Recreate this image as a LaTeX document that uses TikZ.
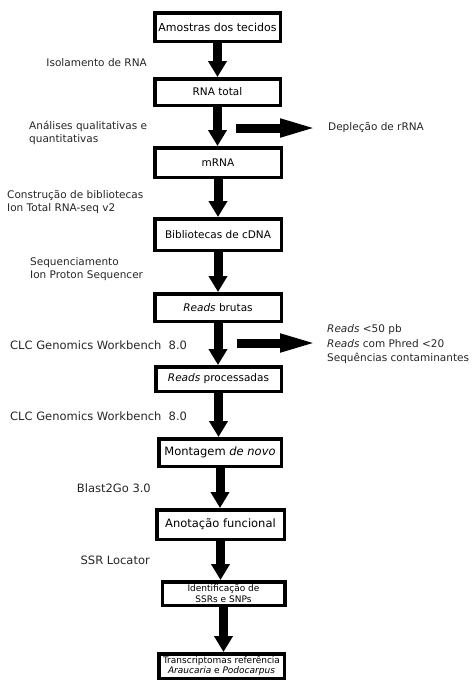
\documentclass[tikz,border=0pt]{standalone}
\usepackage{fontspec}
\setmainfont{DejaVu Sans}
\usetikzlibrary{arrows.meta}
\begin{document}
\begin{tikzpicture}[x=1pt,y=-1pt,
  box/.style={draw=black, line width=3.5pt, fill=white, inner sep=0pt, align=center, font=\fontsize{10.5}{12}\selectfont},
  lab/.style={inner sep=0pt, align=left, font=\fontsize{10.5}{13}\selectfont, text=black!85},
  biglab/.style={lab, font=\fontsize{11.5}{13}\selectfont},
  down/.style={line width=9pt, -{Triangle[length=16pt,width=18pt]}},
  side/.style={line width=9pt, -{Triangle[length=40pt,width=16pt]}}]
\useasboundingbox (0,0) rectangle (472,683);
% boxes
\node[box, minimum width=125.5pt, minimum height=28.5pt, font=\fontsize{11}{13}\selectfont] (b1) at (217.5,27) {Amostras dos tecidos};
\node[box, minimum width=125.5pt, minimum height=26.5pt] (b2) at (217.5,92) {RNA total};
\node[box, minimum width=126.5pt, minimum height=29.5pt] (b3) at (218,162.5) {mRNA};
\node[box, minimum width=126.5pt, minimum height=31.5pt] (b4) at (218,234.5) {Bibliotecas de cDNA};
\node[box, minimum width=126.5pt, minimum height=27.5pt] (b5) at (218,307.5) {\textit{Reads} brutas};
\node[box, minimum width=125.5pt, minimum height=24.5pt] (b6) at (218.5,379) {\textit{Reads} processadas};
\node[box, minimum width=122.5pt, minimum height=27.5pt, font=\fontsize{11.5}{13}\selectfont] (b7) at (220,452.5) {Montagem \textit{de novo}};
\node[box, minimum width=127.5pt, minimum height=29.5pt, font=\fontsize{11.5}{13}\selectfont] (b8) at (220.5,524.5) {Anotação funcional};
\node[box, minimum width=122.5pt, minimum height=23.5pt, font=\fontsize{9}{11.5}\selectfont] (b9) at (223.5,593.5) {Identificação de\\SSRs e SNPs};
\node[box, minimum width=125.5pt, minimum height=24.5pt, font=\fontsize{9}{10.5}\selectfont] (b10) at (221.5,666) {Transcriptomas referência\\\textit{Araucaria} e \textit{Podocarpus}};
% vertical arrows
\draw[down] (b1.south) -- (b1.south |- b2.north);
\draw[down] (b2.south) -- (b2.south |- b3.north);
\draw[down] (b3.south) -- (b3.south |- b4.north);
\draw[down] (b4.south) -- (b4.south |- b5.north);
\draw[down] (b5.south) -- (b5.south |- b6.north);
\draw[down] (b6.south) -- (b6.south |- b7.north);
\draw[down] (b7.south) -- (b7.south |- b8.north);
\draw[down] (b8.south) -- (b8.south |- b9.north);
\draw[down] (b9.south) -- (b9.south |- b10.north);
% left labels
\node[lab, anchor=east] (l1) at (147,63) {Isolamento de RNA};
\node[lab, anchor=west] (l2) at (29,132.5) {Análises qualitativas e\\quantitativas};
\node[lab, anchor=west] (l3) at (7,202.5) {Construção de bibliotecas\\Ion Total RNA-seq v2};
\node[lab, anchor=west] (l4) at (30,269) {Sequenciamento\\Ion Proton Sequencer};
\node[biglab, anchor=west] (l5) at (10,345) {CLC Genomics Workbench\ \ 8.0};
\node[biglab, anchor=west] (l6) at (10,416) {CLC Genomics Workbench\ \ 8.0};
\node[biglab, anchor=east] (l7) at (151,488) {Blast2Go 3.0};
\node[biglab, anchor=east] (l8) at (150,560) {SSR Locator};
% right labels
\node[lab, anchor=west] (r1) at (328,128) {Depleção de rRNA};
\node[lab, anchor=west, font=\fontsize{10.5}{14.5}\selectfont] (r2) at (327,344.5) {\textit{Reads} <50 pb\\\textit{Reads} com Phred <20\\Sequências contaminantes};
% side arrows
\coordinate (h1s) at (236,128);
\coordinate (h1e) at (320,128);
\coordinate (h2s) at (237,343);
\coordinate (h2e) at (320,343);
\draw[side] (h1s) -- (h1e);
\draw[side] (h2s) -- (h2e);
\end{tikzpicture}
\end{document}
